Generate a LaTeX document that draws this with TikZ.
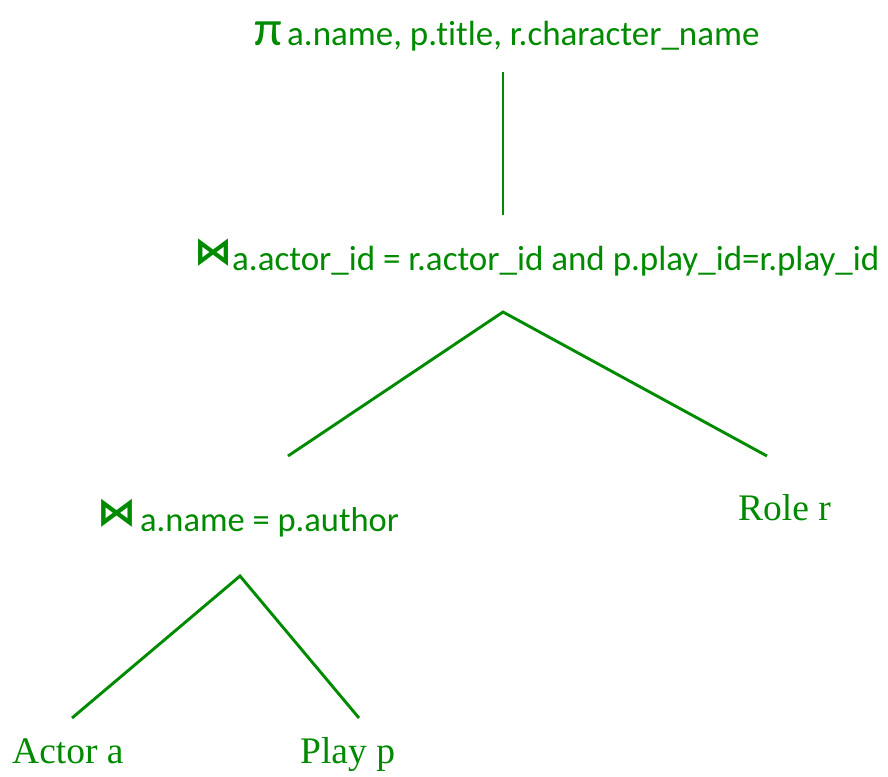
\documentclass[tikz,border=0pt]{standalone}
\usepackage{fontspec}
\setmainfont{Carlito}[Ligatures=CommonOff]
\newfontfamily\leaffont{Liberation Serif}
\newfontfamily\symfont{DejaVu Sans}
\definecolor{treegreen}{RGB}{0,138,0}
\begin{document}
\begin{tikzpicture}[x=1pt,y=-1pt,
  lbl/.style={inner sep=0pt, anchor=base west, text=treegreen, font=\fontsize{35}{38}\selectfont},
  opsym/.style={inner sep=0pt, anchor=base west, text=treegreen},
  leaf/.style={inner sep=0pt, anchor=base west, text=treegreen, font=\leaffont\fontsize{37.5}{40}\selectfont},
  edge/.style={draw=treegreen, line width=2.9pt}]
\useasboundingbox (0,0) rectangle (888,776);
% projection
\node[opsym, font=\fontsize{50}{54}\selectfont] (pi) at (254,46) {π};
\node[lbl] (pisub) at (287,46) {a.name, p.title, r.character\_name};
\coordinate (l1a) at (503,72);
\coordinate (l1b) at (503,215);
\draw[edge] (l1a) -- (l1b);
% top join
\node[opsym, font=\symfont\bfseries\fontsize{38}{40}\selectfont] (j1) at (194,264) {⋈};
\node[lbl] (j1sub) at (232,270) {a.actor\_id = r.actor\_id and p.play\_id=r.play\_id};
\coordinate (t1) at (503,312);
\coordinate (t1l) at (288,456);
\coordinate (t1r) at (767,456);
\draw[edge] (t1l) -- (t1) -- (t1r);
% lower join
\node[opsym, font=\symfont\bfseries\fontsize{39}{40}\selectfont] (j2) at (97,525) {⋈};
\node[lbl, font=\fontsize{34.5}{38}\selectfont] (j2sub) at (140,531) {a.name = p.author};
\node[leaf] (role) at (738,520) {Role r};
\coordinate (t2) at (240,576);
\coordinate (t2l) at (72,718);
\coordinate (t2r) at (359,718);
\draw[edge] (t2l) -- (t2) -- (t2r);
% leaves
\node[leaf] (actor) at (12,763) {Actor a};
\node[leaf] (play) at (300,763) {Play p};
\end{tikzpicture}
\end{document}
